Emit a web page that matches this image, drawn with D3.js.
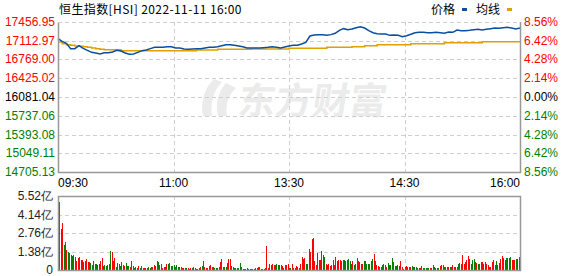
<!DOCTYPE html>
<html>
<head>
<meta charset="utf-8">
<script src="https://cdn.jsdelivr.net/npm/d3@7"></script>
<style>
  body { margin: 0; background: #fff; }
  svg { display: block; font-family: "Liberation Sans", Arial, sans-serif; }
</style>
</head>
<body>
<svg id="Chartsvg" width="578" height="276"></svg>
<script>
// price axis labels (left) and percent labels (right)
var priceTicks = [17456.95, 17112.97, 16769.00, 16425.02, 16081.04, 15737.06, 15393.08, 15049.11, 14705.13];
var pctTicks = ["8.56%", "6.42%", "4.28%", "2.14%", "0.00%", "2.14%", "4.28%", "6.42%", "8.56%"];
var timeLabels = ["09:30", "11:00", "13:30", "14:30", "16:00"];
var volTicks = [5.52, 4.14, 2.76, 1.38, 0];
var prevClose = 16081.04;

// price sampled every 3 minutes (111 points over 330 minutes)
var price = [17151,17102,17066,16968,16968,17023,16974,16937,16900,16888,
  16870,16894,16894,16907,16937,16925,16888,16864,16870,16900,
  16931,16943,16968,16992,16992,16992,17004,17004,16980,16980,
  16962,16955,16962,16968,16968,16980,16992,16992,17004,17023,
  17041,17041,17029,17017,17004,16980,16980,16980,16980,16986,
  16992,17004,16992,16980,16998,17017,17029,17029,17053,17084,
  17200,17218,17225,17225,17212,17225,17249,17304,17335,17316,
  17329,17353,17371,17347,17298,17261,17243,17237,17237,17212,
  17218,17212,17188,17206,17231,17261,17267,17267,17261,17261,
  17267,17261,17249,17273,17267,17310,17298,17298,17304,17316,
  17322,17310,17322,17335,17347,17341,17353,17359,17347,17329,17347];
var avgLine = [17090,17059,17041,17029,17017,17011,17004,16992,16980,16968,
  16956,16949,16949,16949,16949,16931,16931,16931,16931,16931,
  16931,16931,16931,16931,16931,16931,16931,16931,16931,16931,
  16931,16931,16931,16943,16943,16943,16943,16943,16956,16956,
  16956,16956,16956,16956,16956,16956,16962,16962,16962,16962,
  16962,16962,16962,16962,16962,16974,16974,16974,16974,16974,
  16974,16974,16974,16974,16992,16992,16992,16992,16992,16992,
  17004,17004,17004,17023,17023,17023,17041,17041,17041,17041,
  17041,17041,17041,17041,17059,17059,17059,17059,17059,17059,
  17059,17059,17078,17078,17078,17078,17078,17078,17078,17078,
  17078,17096,17096,17096,17096,17096,17096,17096,17096,17096,17096];

// volume per minute (亿) and direction (R up / G down)
var volume = [2.49,5.08,3.09,3.5,1.87,2.09,1.5,1.34,1.27,1.1,
  1.02,1.12,0.95,0.67,0.9,0.97,0.75,0.75,0.6,0.67,
  0.82,0.6,0.6,0.52,0.37,0.67,0.45,0.45,0.37,0.45,
  0.67,0.9,0.3,0.37,0.3,0.37,0.45,1.42,1.34,0.67,
  0.9,0.22,0.52,0.45,0.3,0.6,0.37,0.3,0.52,0.3,
  0.3,0.22,0.67,0.3,0.15,
  0.22,0.15,0.3,0.15,0.3,0.15,0.15,0.15,0.15,0.22,
  0.15,0.22,0.22,0.37,0.3,0.67,0.6,0.37,0.45,0.15,
  0.22,0.22,0.45,0.45,0.52,0.3,0.3,0.37,0.22,0.37,
  0.22,0.22,0.22,0.15,0.15,0.15,0.15,0.15,0.07,0.15,
  0.15,0.22,0.15,0.07,0.07,0.15,0.22,0.3,0.67,0.22,
  0.15,0.15,0.3,0.37,0.22,0.22,0.15,0.15,
  0.15,0.22,0.6,0.82,0.22,0.22,0.22,0.52,0.82,0.82,
  0.3,0.22,0.15,0.15,0.15,0.15,0.52,0.22,0.07,0.07,
  0.07,0.15,0.07,0.07,0.07,0.07,
  0.07,0.15,0.15,0.22,0.22,0.07,0.07,0.07,0.15,1.82,
  0.15,0.45,0.37,0.45,0.37,0.37,0.45,0.37,0.37,0.37,
  0.3,0.15,0.37,0.37,0.45,0.15,0.15,0.45,0.15,0.15,
  0.3,0.22,0.15,0.45,0.97,0.82,0.9,0.45,0.45,1.57,
  1.34,2.32,2.39,0.67,0.37,1.27,0.75,0.75,1.42,1.12,
  0.97,0.45,0.37,0.45,0.3,0.37,0.75,0.37,0.97,0.67,
  0.75,0.75,0.67,0.75,0.75,0.67,0.75,0.82,0.67,0.45,
  0.67,0.37,0.45,0.9,0.67,0.6,0.45,0.45,0.67,0.67,
  0.45,0.45,0.45,
  0.67,0.82,1.2,0.67,0.37,0.3,0.22,0.22,0.37,0.45,
  0.37,0.22,0.52,0.37,0.37,0.9,0.6,0.3,0.3,0.37,
  0.3,0.67,0.22,0.07,0.22,0.3,0.22,0.22,0.22,0.3,
  0.22,0.22,0.22,0.15,0.15,0.15,0.3,0.15,0.15,0.15,
  0.15,0.15,0.15,0.15,0.37,0.22,0.15,0.15,0.15,0.3,
  0.37,0.37,0.22,0.22,0.22,0.22,0.22,0.22,0.37,0.22,
  0.22,0.22,0.45,0.52,0.45,1.12,0.45,0.6,0.75,1.05,
  0.82,0.45,0.75,0.82,0.6,0.52,0.45,0.45,0.6,0.6,
  0.45,0.6,0.45,0.37,0.22,0.22,0.6,0.75,0.37,0.67,
  0.37,0.52,0.82,1.05,0.9,0.75,0.9,0.9,0.9,0.97,
  0.75,0.75,0.75,0.82,0.82,0.97];
var volDir = [
  "RGGRGGRGGG", "GRRRRGRRGG", "RRRGGRGGGG", "RRGGGGGGRR", "RGRGGGRRGG", "GRRGG",
  "GRRGGRRRRG", "GRRRRRGGGR", "RRRGGRGGGG", "GGRRGGGRGR", "GGRGGRRGGR", "RGRRRGGG",
  "RRRRGGGRRR", "GRGGGGGGGG", "RGGRGR", "RRRRRRRRGR", "RGGRRRGGGR", "RGGRRGGRGG",
  "RRRRRRRGGR", "RRGRRRRRRG", "GRRRRRRRRR", "RRGGGGGGGR", "RGGRRGGRGG", "GGG",
  "GGRGRRRRGG", "GRGGGGGRGG", "GRRGRRRRRG", "GGGGGRRRGG", "GGRRGGRGGR", "RRGGGRGGRR",
  "GRGGRRRRRR", "GRGGRRGGRR", "GGRRRRRRGG", "GGRRGGGRGG", "RRRGRR"
].join("").split("");

var svg = d3.select("#Chartsvg"),
    L = 58, R = 520,
    pTop = 22, pBot = 172,
    vTop = 196, vBot = 270;

var x = d3.scaleLinear().domain([0, 330]).range([L, R]);
var y = d3.scaleLinear().domain([priceTicks[8], priceTicks[0]]).range([pBot, pTop]);
var yv = d3.scaleLinear().domain([0, volTicks[0]]).range([vBot, vTop]);
var xb = d3.scaleBand().domain(d3.range(volume.length)).range([L, R]);

var grid = "#cfcfcf", frame = "#999";

// watermark
var wm = svg.append("g").attr("fill", "#ebebeb");
wm.append("path")
  .attr("d", "M214,79 C205,88 200,100 203,116 L212,116 C210,102 214,90 222,82 Z M226,83 C218,92 215,104 218,116 L227,116 C225,104 229,94 236,88 Z");
wm.append("text")
  .attr("x", 238).attr("y", 114)
  .attr("font-family", "Noto Sans CJK SC")
  .attr("font-weight", "bold")
  .attr("font-size", 37)
  .attr("transform", "skewX(-8) translate(15,0)")
  .text("东方财富");

// price grid
svg.append("g").selectAll("line").data(priceTicks.slice(0, 8)).enter().append("line")
  .attr("x1", L).attr("x2", R)
  .attr("y1", function(d) { return Math.round(y(d)) + 0.5; })
  .attr("y2", function(d) { return Math.round(y(d)) + 0.5; })
  .attr("stroke", grid).attr("stroke-dasharray", "4,3");
var vx = [1, 2, 3];
svg.append("g").selectAll("line").data(vx).enter().append("line")
  .attr("x1", function(d) { return Math.round(x(d * 82.5)) + 0.5; })
  .attr("x2", function(d) { return Math.round(x(d * 82.5)) + 0.5; })
  .attr("y1", pTop).attr("y2", pBot)
  .attr("stroke", grid).attr("stroke-dasharray", "4,3");

// volume grid
svg.append("g").selectAll("line").data(volTicks.slice(1, 4)).enter().append("line")
  .attr("x1", L).attr("x2", R)
  .attr("y1", function(d) { return Math.round(yv(d)) + 0.5; })
  .attr("y2", function(d) { return Math.round(yv(d)) + 0.5; })
  .attr("stroke", grid).attr("stroke-dasharray", "4,3");
svg.append("g").selectAll("line").data(vx).enter().append("line")
  .attr("x1", function(d) { return Math.round(x(d * 82.5)) + 0.5; })
  .attr("x2", function(d) { return Math.round(x(d * 82.5)) + 0.5; })
  .attr("y1", vTop).attr("y2", vBot)
  .attr("stroke", grid).attr("stroke-dasharray", "4,3");

// volume bars
svg.append("g").selectAll("rect").data(volume).enter().append("rect")
  .attr("x", function(d, i) { return Math.round(xb(i)); })
  .attr("width", 1)
  .attr("y", function(d) { return Math.round(yv(d)); })
  .attr("height", function(d) { return vBot - Math.round(yv(d)); })
  .attr("fill", function(d, i) { return volDir[i] === "R" ? "#ff0000" : "#008000"; });

// lines
svg.append("path").datum(avgLine)
  .attr("d", d3.line().curve(d3.curveStepAfter)
    .x(function(d, i) { return x(i * 3); }).y(function(d) { return y(d); }))
  .attr("fill", "none").attr("stroke", "#e0a000").attr("stroke-width", 1.5);
svg.append("path").datum(price)
  .attr("d", d3.line().x(function(d, i) { return x(i * 3); }).y(function(d) { return y(d); }))
  .attr("fill", "none").attr("stroke", "#0a4fa0").attr("stroke-width", 1.5);

// frames
svg.append("path")
  .attr("d", "M" + (L + 0.5) + "," + pTop + "V" + (pBot + 0.5) + "H" + (R + 0.5) + "V" + pTop)
  .attr("fill", "none").attr("stroke", frame).attr("stroke-width", 1.5);
svg.append("line").attr("x1", L).attr("x2", R).attr("y1", pTop + 0.5).attr("y2", pTop + 0.5)
  .attr("stroke", grid).attr("stroke-dasharray", "4,3");
svg.append("rect")
  .attr("x", L + 0.5).attr("y", vTop + 0.5).attr("width", R - L).attr("height", vBot - vTop)
  .attr("fill", "none").attr("stroke", frame).attr("stroke-width", 1.5);

// left price labels
function tickColor(d) { return d > prevClose + 1 ? "#ff0000" : (d < prevClose - 1 ? "#008000" : "#000"); }
svg.append("g").selectAll("text").data(priceTicks).enter().append("text")
  .attr("x", 55).attr("y", function(d) { return y(d) + 4; })
  .attr("text-anchor", "end").attr("font-size", 12)
  .attr("fill", tickColor)
  .text(function(d) { return d.toFixed(2); });

// right percent labels
svg.append("g").selectAll("text").data(pctTicks).enter().append("text")
  .attr("x", 524).attr("y", function(d, i) { return y(priceTicks[i]) + 4; })
  .attr("font-size", 12)
  .attr("fill", function(d, i) { return tickColor(priceTicks[i]); })
  .text(function(d) { return d; });

// time labels
svg.append("g").selectAll("text").data(timeLabels).enter().append("text")
  .attr("x", function(d, i) { return x(i * 82.5); })
  .attr("y", 187)
  .attr("text-anchor", function(d, i) { return i === 0 ? "start" : (i === 4 ? "end" : "middle"); })
  .attr("font-size", 12).attr("fill", "#000")
  .text(function(d) { return d; });

// volume labels
svg.append("g").selectAll("text").data(volTicks).enter().append("text")
  .attr("x", 53).attr("y", function(d) { return yv(d) + 4; })
  .attr("text-anchor", "end").attr("font-size", 12).attr("fill", "#222")
  .text(function(d) { return d === 0 ? "0" : d.toFixed(2) + "亿"; });

// title and legend
svg.append("text").attr("x", 59).attr("y", 14).attr("font-size", 12)
  .attr("font-family", "Noto Sans CJK SC").attr("letter-spacing", 0.4)
  .text("恒生指数[HSI] 2022-11-11 16:00");
var legend = [{name: "价格", color: "#0a4fa0", x: 431}, {name: "均线", color: "#e0a000", x: 476}];
var lg = svg.append("g").selectAll("g").data(legend).enter().append("g");
lg.append("text").attr("x", function(d) { return d.x; }).attr("y", 14)
  .attr("font-size", 12).attr("font-family", "Noto Sans CJK SC")
  .text(function(d) { return d.name; });
lg.append("rect").attr("x", function(d) { return d.x + 31; }).attr("y", 8)
  .attr("width", 5).attr("height", 3).attr("fill", function(d) { return d.color; });
</script>
</body>
</html>
